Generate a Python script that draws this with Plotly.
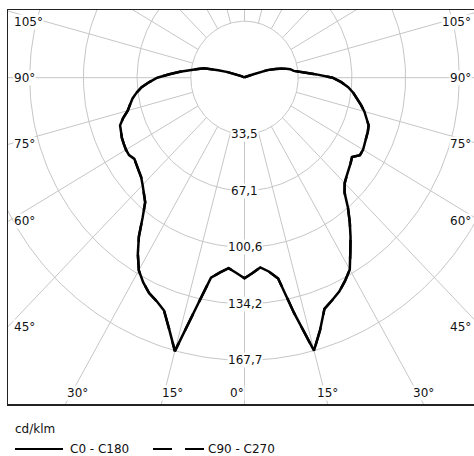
import numpy as np
import plotly.graph_objects as go

# ---- data (gamma angle in degrees, 0 = straight down; intensities in cd/klm) ----
gamma = [0, 2.5, 5, 7.5, 10, 12.5, 15, 17.5, 20, 22.5, 25, 27.5, 30, 32.5, 35, 37.5,
         40, 42.5, 45, 47.5, 50, 52.5, 55, 57.5, 60, 62.5, 65, 67.5, 70, 72.5, 75, 77.5,
         80, 82.5, 85, 87.5, 90, 92.5, 95, 97.5, 100, 102.5, 105, 107.5, 110,
         115, 120, 130, 140, 150, 160, 170, 180]

c0 = [119, 116, 113, 116, 121, 143, 167.7, 157, 146, 143, 140, 136, 131.5, 123, 115.5, 108,
      100.5, 92.5, 88.5, 86.5, 85, 83.5, 82, 85.5, 85.5, 84.7, 84, 83.4, 82.5, 80, 77.5, 74.5,
      71.5, 68.5, 65, 60.5, 55, 45, 36.5, 31, 29, 25.5, 20, 15, 6,
      2, 1, 0.6, 0.5, 0.4, 0.3, 0.3, 0.3]

c180 = [119, 116, 113.5, 116.5, 120.5, 140, 168, 156.5, 147, 143.5, 141, 137, 132, 124, 115, 104.5,
        96.5, 93, 90, 87.5, 86, 85, 84, 85.5, 85.5, 85, 84.5, 83.5, 82.7, 79.5, 75.5, 73.2,
        71, 68, 64.5, 59.5, 54.5, 47, 40.5, 34, 29.5, 25.8, 17, 11, 6,
        2.2, 1, 0.6, 0.5, 0.4, 0.3, 0.3, 0.3]

# the C90 - C270 curve is hidden under the C0 - C180 curve in the picture
c90 = [119, 116, 113, 116, 121, 143, 167.7, 157, 146, 143, 140, 136, 131.5, 123, 115.5, 108,
       100.5, 92.5, 88.5, 86.5, 85, 83.5, 82, 85.5, 85.5, 84.7, 84, 83.4, 82.5, 80, 77.5, 74.5,
       71.5, 68.5, 65, 60.5, 55, 45, 36.5, 31, 29, 25.5, 20, 15, 6,
       2, 1, 0.6, 0.5, 0.4, 0.3, 0.3, 0.3]
c270 = [119, 116, 113.5, 116.5, 120.5, 140, 168, 156.5, 147, 143.5, 141, 137, 132, 124, 115, 104.5,
        96.5, 93, 90, 87.5, 86, 85, 84, 85.5, 85.5, 85, 84.5, 83.5, 82.7, 79.5, 75.5, 73.2,
        71, 68, 64.5, 59.5, 54.5, 47, 40.5, 34, 29.5, 25.8, 17, 11, 6,
        2.2, 1, 0.6, 0.5, 0.4, 0.3, 0.3, 0.3]

ring_values = [33.54, 67.08, 100.62, 134.16, 167.7]
ring_labels = ["33,5", "67,1", "100,6", "134,2", "167,7"]
spoke_angles = [0, 15, 30, 45, 60, 75, 90, 105, 120, 135, 150, 165, 180]
side_label_angles = [45, 60, 75, 90, 105]
bottom_label_angles = [0, 15, 30]
unit_label = "cd/klm"
series_names = ["C0 - C180", "C90 - C270"]

# ---- layout geometry ----
W, H = 474, 456
ML, MT, MB, MR = 8, 10, 52, 0
CX, CY = 244.5, 77.7           # polar origin in page pixels
SX, SY = 1.601, 1.685          # pixels per cd/klm horizontally / vertically
x_range = [(ML - CX) / SX, (W - MR - CX) / SX]
y_range = [-(H - MB - CY) / SY, (CY - MT) / SY]
plot_h = H - MT - MB
plot_w = W - ML - MR


def px_to_paper(px, py):
    return (px - ML) / plot_w, (H - MB - py) / plot_h


def polar_xy(angles, values, side):
    a = np.radians(np.asarray(angles, dtype=float))
    v = np.asarray(values, dtype=float)
    return side * v * np.sin(a), -v * np.cos(a)


GRID = "#c6c6c6"
TXT = "#111111"
FONT = "DejaVu Sans"

fig = go.Figure()

# rings
t = np.linspace(0, 2 * np.pi, 361)
for rv in ring_values:
    fig.add_trace(go.Scatter(x=rv * np.sin(t), y=rv * np.cos(t), mode="lines",
                             line=dict(color=GRID, width=1), hoverinfo="skip", showlegend=False))

# spokes
sx_list, sy_list = [], []
for side in (-1, 1):
    for ang in spoke_angles:
        xs, ys = polar_xy([ang, ang], [ring_values[0], 600], side)
        sx_list += list(xs) + [None]
        sy_list += list(ys) + [None]
fig.add_trace(go.Scatter(x=sx_list, y=sy_list, mode="lines",
                         line=dict(color=GRID, width=1), hoverinfo="skip", showlegend=False))


def curve(left_vals, right_vals):
    xl, yl = polar_xy(gamma[::-1], left_vals[::-1], -1)
    xr, yr = polar_xy(gamma, right_vals, 1)
    return np.concatenate([xl, xr]), np.concatenate([yl, yr])


x2, y2 = curve(c270, c90)
fig.add_trace(go.Scatter(x=x2, y=y2, mode="lines", name=series_names[1],
                         line=dict(color="black", width=2.5, dash="19px,13px"), showlegend=False))
x1, y1 = curve(c180, c0)
fig.add_trace(go.Scatter(x=x1, y=y1, mode="lines", name=series_names[0],
                         line=dict(color="black", width=2.5), showlegend=False))

annotations = []
# ring value labels
for rv, lab in zip(ring_values, ring_labels):
    annotations.append(dict(x=0, y=-rv, xref="x", yref="y", text=lab, showarrow=False,
                            bgcolor="white", borderpad=0, xanchor="center", yanchor="middle",
                            font=dict(family=FONT, size=12, color=TXT)))

# side angle labels
for ang in side_label_angles:
    a = np.radians(ang)
    yy = -(-x_range[0]) / np.tan(a) if ang != 90 else 0.0
    yanchor, yshift = "middle", 0
    if yy > y_range[1] - 8:
        yy, yanchor, yshift = y_range[1], "top", -4
    annotations.append(dict(x=0, xref="paper", y=yy, yref="y", text=f"{ang}°", showarrow=False,
                            xanchor="left", xshift=5, yanchor=yanchor, yshift=yshift,
                            bgcolor="white", borderpad=0,
                            font=dict(family=FONT, size=12, color=TXT)))
    annotations.append(dict(x=1, xref="paper", y=yy, yref="y", text=f"{ang}°", showarrow=False,
                            xanchor="right", xshift=-2, yanchor=yanchor, yshift=yshift,
                            bgcolor="white", borderpad=0,
                            font=dict(family=FONT, size=12, color=TXT)))

# bottom angle labels
for ang in bottom_label_angles:
    xx = -y_range[0] * np.tan(np.radians(ang))
    if ang == 0:
        annotations.append(dict(x=0, xref="x", y=0, yref="paper", text=f"{ang}°", showarrow=False,
                                xanchor="right", yanchor="bottom", yshift=3, bgcolor="white",
                                borderpad=0, font=dict(family=FONT, size=12, color=TXT)))
        continue
    annotations.append(dict(x=-xx, xref="x", y=0, yref="paper", text=f"{ang}°", showarrow=False,
                            xanchor="left", yanchor="bottom", yshift=3, bgcolor="white",
                            borderpad=0, font=dict(family=FONT, size=12, color=TXT)))
    annotations.append(dict(x=xx, xref="x", y=0, yref="paper", text=f"{ang}°", showarrow=False,
                            xanchor="center", yanchor="bottom", yshift=3, bgcolor="white",
                            borderpad=0, font=dict(family=FONT, size=12, color=TXT)))

# legend (drawn manually)
ux, uy = px_to_paper(13, 429)
annotations.append(dict(x=ux, y=uy, xref="paper", yref="paper", text=unit_label, showarrow=False,
                        xanchor="left", yanchor="middle", font=dict(family=FONT, size=12, color=TXT)))
lx, ly = px_to_paper(68, 449)
annotations.append(dict(x=lx, y=ly, xref="paper", yref="paper", text=series_names[0], showarrow=False,
                        xanchor="left", yanchor="middle", font=dict(family=FONT, size=12, color=TXT)))
lx2, _ = px_to_paper(206, 449)
annotations.append(dict(x=lx2, y=ly, xref="paper", yref="paper", text=series_names[1], showarrow=False,
                        xanchor="left", yanchor="middle", font=dict(family=FONT, size=12, color=TXT)))

a0, _ = px_to_paper(15, 449)
a1, _ = px_to_paper(63, 449)
b0, _ = px_to_paper(153, 449)
b1, _ = px_to_paper(204, 449)
shapes = [
    dict(type="line", xref="paper", yref="paper", x0=a0, x1=a1, y0=ly, y1=ly,
         line=dict(color="black", width=2)),
    dict(type="line", xref="paper", yref="paper", x0=b0, x1=b1, y0=ly, y1=ly,
         line=dict(color="black", width=2, dash="19px,13px")),
]

fig.update_layout(
    width=W, height=H,
    margin=dict(l=ML, r=MR, t=MT, b=MB, pad=0),
    paper_bgcolor="white", plot_bgcolor="white",
    xaxis=dict(range=x_range, showgrid=False, zeroline=False, showticklabels=False,
               ticks="", showline=True, mirror=True, linecolor="#222222", linewidth=1.5,
               fixedrange=True),
    yaxis=dict(range=y_range, showgrid=False, zeroline=False, showticklabels=False,
               ticks="", showline=True, mirror=False, linecolor="#222222", linewidth=1.5,
               fixedrange=True),
    annotations=annotations,
    shapes=shapes,
    showlegend=False,
)

fig.write_html("out.html",
               config={"displayModeBar": False, "staticPlot": True},
               post_script="document.body.style.margin='0';document.body.style.overflow='hidden';")
